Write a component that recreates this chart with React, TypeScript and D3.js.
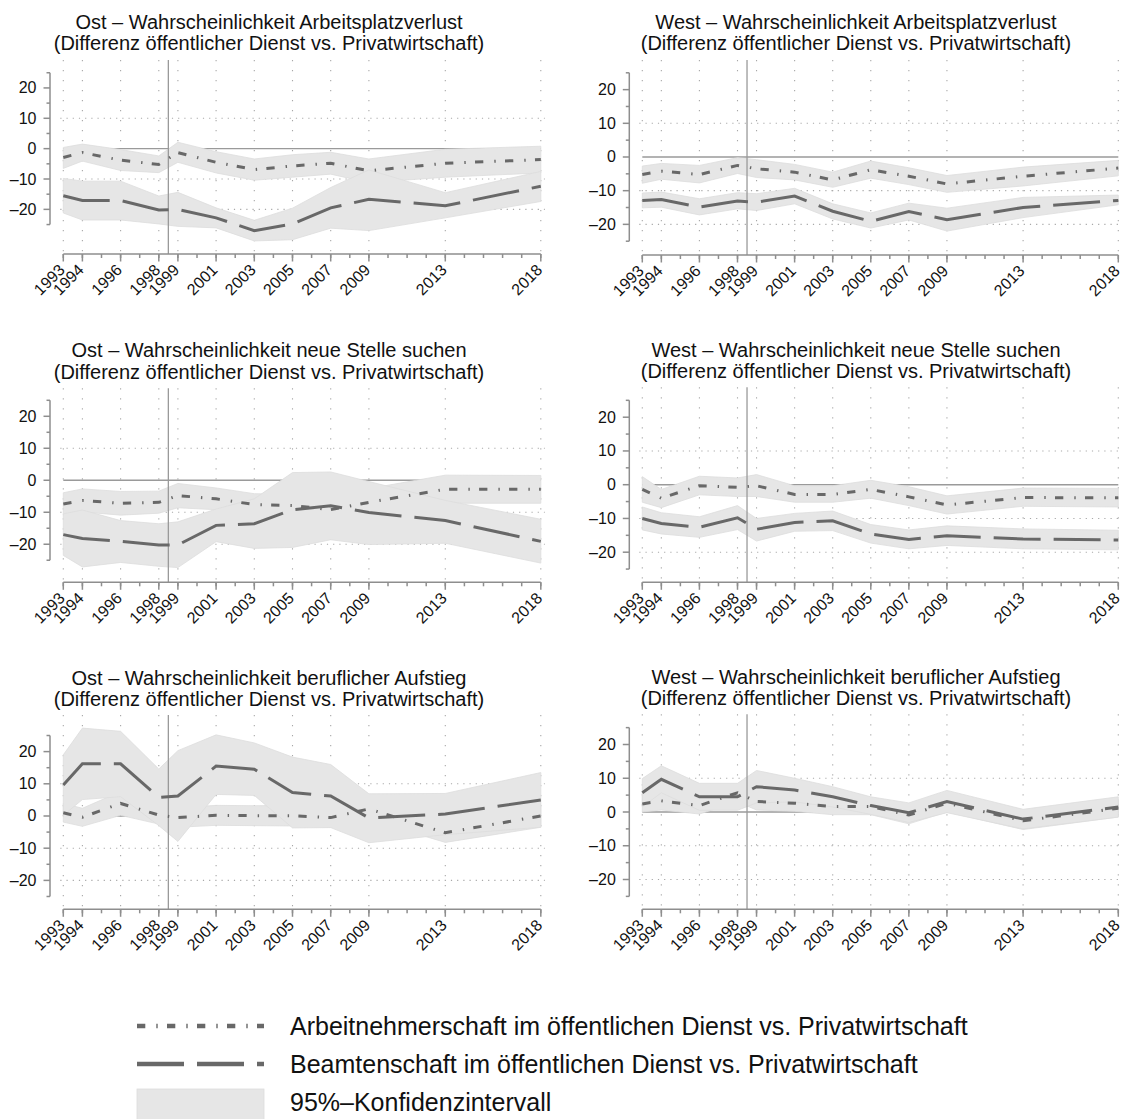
import React from "react";
import * as d3 from "d3";

// ---------- data ----------
const years = [1993, 1994, 1996, 1998, 1999, 2001, 2003, 2005, 2007, 2009, 2013, 2018];
const yMajorTicks = [-20, -10, 0, 10, 20];
const yMinorTicks = [-25, -15, -5, 5, 15, 25];
const yGridValues = [-20, -10, 10];
const breakYear = 1998.5;

const panelTitles = [
  "Ost – Wahrscheinlichkeit Arbeitsplatzverlust",
  "West – Wahrscheinlichkeit Arbeitsplatzverlust",
  "Ost – Wahrscheinlichkeit neue Stelle suchen",
  "West – Wahrscheinlichkeit neue Stelle suchen",
  "Ost – Wahrscheinlichkeit beruflicher Aufstieg",
  "West – Wahrscheinlichkeit beruflicher Aufstieg",
];
const subtitle = "(Differenz öffentlicher Dienst vs. Privatwirtschaft)";
const legendLabels = [
  "Arbeitnehmerschaft im öffentlichen Dienst vs. Privatwirtschaft",
  "Beamtenschaft im öffentlichen Dienst vs. Privatwirtschaft",
  "95%–Konfidenzintervall",
];

// Ost – Arbeitsplatzverlust
const ostJobAN = [-2.9, -1.3, -3.8, -5.2, -1.3, -4.5, -6.9, -5.7, -4.8, -7.3, -4.8, -3.6];
const ostJobANLo = [-6.5, -4.1, -7.2, -7.9, -4.5, -8.0, -10.4, -9.4, -8.4, -11.2, -9.4, -8.0];
const ostJobANHi = [0.4, 1.5, -0.3, -2.4, 2.1, -1.0, -3.4, -2.0, -1.2, -3.4, -0.2, 0.8];
const ostJobB = [-15.5, -17.1, -17.1, -20.2, -20.0, -22.8, -27.0, -24.8, -19.5, -16.7, -18.8, -12.4];
const ostJobBLo = [-21.2, -23.5, -23.5, -24.8, -25.6, -26.1, -30.4, -30.0, -26.2, -27.0, -22.8, -17.4];
const ostJobBHi = [-9.8, -10.7, -10.7, -15.6, -14.4, -19.5, -23.6, -19.6, -12.8, -7.0, -14.5, -7.5];

// West – Arbeitsplatzverlust
const westJobAN = [-5.2, -4.2, -5.2, -2.5, -3.5, -4.5, -6.8, -3.8, -5.7, -8.0, -5.7, -3.3];
const westJobANLo = [-7.8, -6.6, -7.7, -4.9, -6.1, -6.8, -9.0, -6.3, -8.2, -10.5, -8.6, -5.6];
const westJobANHi = [-2.7, -1.9, -2.5, -0.2, -0.8, -2.2, -4.5, -1.2, -3.2, -5.5, -3.0, -1.0];
const westJobB = [-12.9, -12.6, -14.9, -13.1, -13.4, -11.6, -16.1, -19.1, -16.2, -18.6, -15.0, -12.9];
const westJobBLo = [-15.1, -14.9, -17.2, -15.4, -15.9, -13.9, -18.4, -21.1, -18.7, -22.0, -18.0, -14.2];
const westJobBHi = [-10.7, -10.4, -12.4, -10.6, -10.9, -9.3, -13.9, -16.6, -13.7, -15.2, -12.0, -11.3];

// Ost – neue Stelle suchen
const ostSearchAN = [-7.4, -6.3, -7.2, -6.9, -4.8, -5.8, -7.6, -7.9, -9.2, -6.9, -2.8, -2.8];
const ostSearchANLo = [-10.9, -9.9, -10.9, -10.3, -8.6, -9.2, -11.0, -11.4, -13.9, -11.2, -7.2, -7.2];
const ostSearchANHi = [-3.9, -2.7, -3.5, -3.4, -1.0, -2.4, -4.2, -4.4, -4.8, -2.6, 1.6, 1.5];
const ostSearchB = [-17.0, -18.2, -19.1, -20.2, -20.2, -14.1, -13.6, -9.2, -8.0, -10.1, -12.6, -19.1];
const ostSearchBLo = [-23.5, -27.1, -25.7, -26.9, -27.3, -19.2, -21.3, -21.0, -18.6, -20.1, -19.7, -25.9];
const ostSearchBHi = [-10.5, -9.3, -12.6, -13.6, -13.0, -9.0, -5.8, 2.4, 2.6, -0.4, -6.3, -12.2];

// West – neue Stelle suchen
const westSearchAN = [-1.4, -4.0, -0.3, -0.8, -0.3, -2.9, -2.9, -1.4, -3.6, -6.0, -3.8, -3.9];
const westSearchANLo = [-5.2, -6.8, -3.0, -3.5, -3.5, -5.2, -5.2, -4.0, -6.2, -8.7, -6.4, -6.6];
const westSearchANHi = [2.4, -1.4, 2.5, 2.0, 3.0, -0.3, -0.3, 1.3, -0.6, -3.3, -1.0, -1.1];
const westSearchB = [-10.0, -11.5, -12.6, -9.8, -13.2, -11.2, -10.7, -14.6, -16.2, -15.1, -16.1, -16.4];
const westSearchBLo = [-13.4, -14.6, -15.6, -13.3, -16.7, -13.8, -13.6, -17.3, -19.0, -18.0, -19.0, -19.3];
const westSearchBHi = [-6.6, -8.3, -9.5, -6.2, -10.0, -8.5, -7.8, -11.8, -13.4, -12.2, -13.1, -13.5];

// Ost – beruflicher Aufstieg
const ostPromoAN = [1.0, -0.4, 3.9, 0.3, -0.5, 0.2, 0.1, 0.1, -0.5, 2.2, -5.2, 0.0];
const ostPromoANLo = [-1.9, -3.2, 0.2, -2.5, -3.5, -2.9, -3.0, -3.1, -3.5, -1.1, -8.2, -3.5];
const ostPromoANHi = [3.9, 2.4, 7.6, 3.1, 2.5, 3.3, 3.2, 3.3, 2.5, 5.5, -2.2, 3.5];
const ostPromoB = [9.6, 16.2, 16.2, 5.8, 6.2, 15.5, 14.5, 7.3, 6.2, -0.6, 0.6, 5.0];
const ostPromoBLo = [0.2, 5.1, 6.0, -3.0, -7.9, 6.7, 6.4, -3.7, -3.6, -8.3, -5.8, -3.5];
const ostPromoBHi = [19.0, 27.3, 26.3, 14.6, 20.3, 25.2, 22.7, 18.3, 16.0, 6.9, 7.0, 13.5];

// West – beruflicher Aufstieg
const westPromoAN = [2.4, 3.3, 1.9, 5.7, 3.1, 2.6, 1.6, 1.6, -0.9, 2.6, -2.6, 1.1];
const westPromoANLo = [0.0, 0.6, -0.6, 3.0, 0.6, 0.2, -0.8, -0.8, -3.5, 0.0, -5.2, -1.5];
const westPromoANHi = [4.8, 6.0, 4.4, 8.4, 5.6, 5.0, 4.0, 4.0, 1.7, 5.2, 0.0, 3.7];
const westPromoB = [5.7, 9.7, 4.5, 4.5, 7.5, 6.5, 4.5, 1.9, -0.2, 3.1, -2.1, 1.5];
const westPromoBLo = [1.5, 5.7, 0.5, 0.5, 2.7, 3.0, 1.5, -0.7, -3.1, -0.2, -5.0, -1.5];
const westPromoBHi = [9.9, 13.7, 8.5, 8.5, 12.3, 10.0, 7.5, 4.5, 2.7, 6.4, 0.8, 4.5];

// ---------- layout ----------
const columns = [
  { axisX: 50, x0: 63.3, x1: 540.8, titleX: 269 },
  { axisX: 629.3, x0: 642.3, x1: 1118.3, titleX: 856 },
];

const panels = [
  { col: 0, top: 60, bottom: 254, yMin: -34.7, yMax: 29.2, titleY: 28.5,
    an: [ostJobAN, ostJobANLo, ostJobANHi], b: [ostJobB, ostJobBLo, ostJobBHi] },
  { col: 1, top: 60, bottom: 255, yMin: -29.1, yMax: 28.8, titleY: 28.5,
    an: [westJobAN, westJobANLo, westJobANHi], b: [westJobB, westJobBLo, westJobBHi] },
  { col: 0, top: 388.3, bottom: 582.3, yMin: -31.9, yMax: 28.75, titleY: 357,
    an: [ostSearchAN, ostSearchANLo, ostSearchANHi], b: [ostSearchB, ostSearchBLo, ostSearchBHi] },
  { col: 1, top: 387.3, bottom: 582.3, yMin: -28.92, yMax: 28.86, titleY: 356.5,
    an: [westSearchAN, westSearchANLo, westSearchANHi], b: [westSearchB, westSearchBLo, westSearchBHi] },
  { col: 0, top: 715, bottom: 909.3, yMin: -28.98, yMax: 31.37, titleY: 684.5,
    an: [ostPromoAN, ostPromoANLo, ostPromoANHi], b: [ostPromoB, ostPromoBLo, ostPromoBHi] },
  { col: 1, top: 714.3, bottom: 909.3, yMin: -28.83, yMax: 28.95, titleY: 683.5,
    an: [westPromoAN, westPromoANLo, westPromoANHi], b: [westPromoB, westPromoBLo, westPromoBHi] },
];

const FONT = "'Liberation Sans', Arial, Helvetica, sans-serif";
const LINE_COLOR = "#686868";
const BAND_COLOR = "#e6e6e6";
const AXIS_COLOR = "#8e8e8e";
const GRID_COLOR = "#a8a8a8";
const REF_COLOR = "#9a9a9a";
const DASHDOT = "8.3 11 1.4 9.3";
const LONGDASH = "47 13";

const fmt = (v: number) => (v < 0 ? "\u2013" + Math.abs(v) : String(v));

function Panel({ p, idx }: { p: any; idx: number }) {
  const c = columns[p.col];
  const x = d3.scaleLinear().domain([1993, 2018]).range([c.x0, c.x1]);
  const y = d3.scaleLinear().domain([p.yMin, p.yMax]).range([p.bottom, p.top]);
  const area = (lo: number[], hi: number[]) =>
    d3.area<number>()
      .x((_, i) => x(years[i]))
      .y0((_, i) => y(lo[i]))
      .y1((_, i) => y(hi[i]))(years as any) as string;
  const line = (vals: number[]) =>
    d3.line<number>()
      .x((_, i) => x(years[i]))
      .y((d) => y(d))(vals) as string;
  const allYears = d3.range(1993, 2019);

  return (
    <g>
      <text x={c.titleX} y={p.titleY} textAnchor="middle" fontSize={20} fill="#111">{panelTitles[idx]}</text>
      <text x={c.titleX} y={p.titleY + 21.5} textAnchor="middle" fontSize={20} fill="#111">{subtitle}</text>

      {/* grid */}
      {years.map((yr) => (
        <line key={"vg" + yr} x1={x(yr)} x2={x(yr)} y1={p.top} y2={p.bottom}
          stroke={GRID_COLOR} strokeWidth={1.1} strokeDasharray="1.2 8.8" />
      ))}
      {yGridValues.map((v) => (
        <line key={"hg" + v} x1={c.x0 - 3} x2={c.x1 + 4} y1={y(v)} y2={y(v)}
          stroke={GRID_COLOR} strokeWidth={1.1} strokeDasharray="1.2 5" />
      ))}
      {/* zero line */}
      <line x1={x(1993)} x2={x(2018)} y1={y(0)} y2={y(0)} stroke={REF_COLOR} strokeWidth={1.4} />

      {/* bands */}
      <path d={area(p.an[1], p.an[2])} fill={BAND_COLOR} stroke="#dddddd" strokeWidth={0.8} />
      <path d={area(p.b[1], p.b[2])} fill={BAND_COLOR} stroke="#dddddd" strokeWidth={0.8} />

      {/* break line */}
      <line x1={x(breakYear)} x2={x(breakYear)} y1={p.top} y2={p.bottom} stroke={REF_COLOR} strokeWidth={1.3} />

      {/* lines */}
      <path d={line(p.an[0])} fill="none" stroke={LINE_COLOR} strokeWidth={3} strokeDasharray={DASHDOT} />
      <path d={line(p.b[0])} fill="none" stroke={LINE_COLOR} strokeWidth={3} strokeDasharray={LONGDASH} />

      {/* y axis */}
      <line x1={c.axisX} x2={c.axisX} y1={y(25)} y2={y(-25)} stroke={AXIS_COLOR} strokeWidth={1.5} />
      {yMajorTicks.map((v) => (
        <g key={"yt" + v}>
          <line x1={c.axisX - 6.5} x2={c.axisX} y1={y(v)} y2={y(v)} stroke={AXIS_COLOR} strokeWidth={1.5} />
          <text x={c.axisX - 13.5} y={y(v) + 5.5} textAnchor="end" fontSize={16} fill="#111">{fmt(v)}</text>
        </g>
      ))}
      {yMinorTicks.map((v) => (
        <line key={"ym" + v} x1={c.axisX - 3.5} x2={c.axisX} y1={y(v)} y2={y(v)} stroke={AXIS_COLOR} strokeWidth={1.5} />
      ))}

      {/* x axis */}
      <line x1={x(1993)} x2={x(2018)} y1={p.bottom} y2={p.bottom} stroke={AXIS_COLOR} strokeWidth={1.5} />
      {allYears.map((yr) => (
        <line key={"xm" + yr} x1={x(yr)} x2={x(yr)} y1={p.bottom} y2={p.bottom + 4} stroke={AXIS_COLOR} strokeWidth={1.5} />
      ))}
      {years.map((yr) => (
        <g key={"xt" + yr}>
          <line x1={x(yr)} x2={x(yr)} y1={p.bottom} y2={p.bottom + 7.5} stroke={AXIS_COLOR} strokeWidth={1.5} />
          <text transform={`translate(${x(yr) - 1.5},${p.bottom + 13}) rotate(-45)`} dy="0.35em"
            textAnchor="end" fontSize={16} fill="#111">{yr}</text>
        </g>
      ))}
    </g>
  );
}

export default function App() {
  const legendRows = [1026, 1064, 1102];
  return (
    <svg width={1126} height={1119} style={{ position: "absolute", left: 0, top: 0, background: "#fff" }}
      fontFamily={FONT}>
      <rect x={0} y={0} width={1126} height={1119} fill="#fff" />
      {panels.map((p, i) => (
        <Panel key={i} p={p} idx={i} />
      ))}
      {/* legend */}
      <line x1={137} x2={264} y1={legendRows[0]} y2={legendRows[0]} stroke={LINE_COLOR} strokeWidth={4.3} strokeDasharray={DASHDOT} />
      <line x1={137} x2={264} y1={legendRows[1]} y2={legendRows[1]} stroke={LINE_COLOR} strokeWidth={4.3} strokeDasharray={LONGDASH} />
      <rect x={137} y={legendRows[2] - 13} width={127} height={32} fill={BAND_COLOR} stroke="#dddddd" strokeWidth={0.8} />
      {legendLabels.map((t, i) => (
        <text key={t} x={290} y={legendRows[i] + 8.5} fontSize={25} fill="#111">{t}</text>
      ))}
    </svg>
  );
}
